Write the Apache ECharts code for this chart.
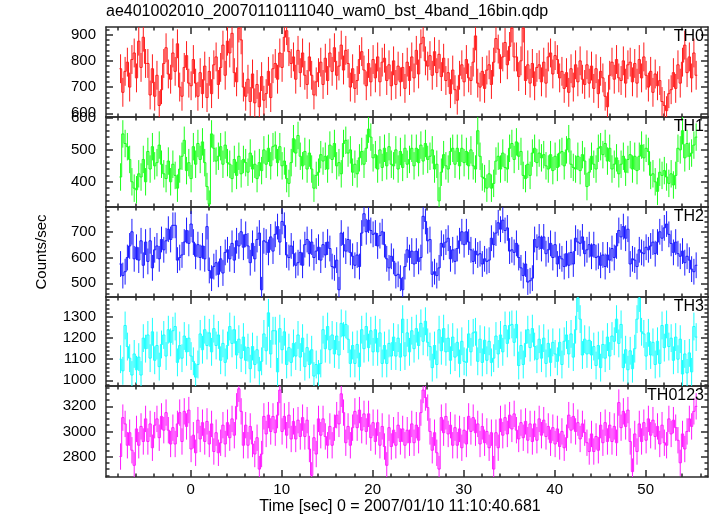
<!DOCTYPE html>
<html><head><meta charset="utf-8">
<script src="https://cdn.jsdelivr.net/npm/echarts@6/dist/echarts.min.js"></script>
<style>html,body{margin:0;padding:0;background:#fff}#c{width:717px;height:516px}</style>
</head><body><div id="c"></div>
<script>
// ---- data (counts/sec, 0.25 s bins) ----
const T0 = -7.70, BIN = 0.25;
const th0 = [
770,680,760,795, 700,805,830,735, 875,775,890,790, 790,670,770,665,
745,630,690,790, 850,750,730,830, 760,865,700,665, 775,820,715,705,
805,715,665,755, 675,780,660,760, 675,785,815,710, 775,860,745,875,
830,905,755,720, 925,880,700,665, 730,645,750,640, 710,625,740,650,
675,760,660,770, 790,730,830,775, 890,915,835,790, 815,730,840,755,
830,745,710,815, 745,670,720,755, 795,710,810,725, 830,760,850,745,
780,860,765,840, 790,700,770,695, 725,805,835,765, 705,790,720,805,
735,815,720,795, 810,725,785,705, 800,710,780,720, 775,695,795,725,
815,735,840,750, 865,890,800,780, 820,745,835,755, 825,740,810,725,
755,675,765,690, 650,745,785,720, 805,735,725,795, 895,715,700,760,
695,765,785,710, 795,885,845,770, 815,870,785,855, 925,815,815,740,
800,925,725,785, 715,790,705,775, 785,720,795,715, 815,830,750,820,
805,735,760,695, 755,680,770,700, 785,720,800,730, 710,785,715,780,
695,770,675,760, 735,665,625,745, 795,730,805,735, 725,800,715,785,
795,720,790,715, 805,735,815,745, 700,760,680,750, 705,725,645,630,
610,675,690,755, 695,785,715,795, 860,755,815,735, 830,745];
const th1 = [
415,550,520,510, 470,400,380,375, 425,415,470,400, 495,440,510,450,
460,515,455,425, 410,465,400,455, 420,380,440,480, 530,435,460,410,
510,455,520,470, 525,460,385,330, 550,505,465,480, 510,455,515,460,
455,410,470,420, 480,425,470,460, 430,490,440,455, 410,460,435,500,
455,505,450,510, 515,460,510,450, 465,410,395,460, 535,490,545,480,
450,495,440,490, 440,380,420,430, 485,465,480,440, 515,470,520,450,
460,425,520,530, 490,500,430,455, 425,475,495,455, 505,565,540,475,
485,440,500,445, 505,450,510,455, 450,500,440,495, 445,505,455,470,
505,450,505,460, 515,465,520,470, 480,500,440,455, 340,430,485,450,
440,495,505,455, 505,450,505,460, 495,450,500,450, 440,560,480,415,
410,380,425,380, 395,465,480,440, 490,445,440,505, 520,470,525,480,
495,420,410,455, 420,490,505,460, 490,475,485,450, 440,485,435,480,
445,490,495,450, 500,535,455,445, 440,480,435,485, 465,385,430,480,
455,440,505,510, 485,520,465,505, 440,455,475,425, 455,480,430,470,
485,440,480,435, 480,515,475,505, 495,420,425,400, 370,430,420,435,
415,395,425,390, 420,505,500,560, 475,520,480,490, 515,540];
const th2 = [
575,530,545,600, 645,700,595,640, 590,665,570,660, 585,665,560,630,
645,595,670,630, 665,710,670,725, 725,590,600,610, 660,705,655,730,
660,605,650,600, 645,595,720,550, 520,565,580,535, 595,540,620,630,
595,655,590,665, 645,700,640,690, 645,580,655,595, 670,695,475,665,
660,620,680,625, 690,720,660,740, 725,610,600,645, 615,570,580,620,
570,650,670,615, 660,600,625,640, 590,650,610,660, 635,565,560,590,
475,695,650,625, 670,620,605,570, 610,565,695,770, 700,745,705,690,
695,645,685,700, 650,595,560,605, 585,530,535,520, 475,565,630,600,
625,575,625,585, 600,760,740,665, 670,535,545,530, 560,655,640,660,
675,595,630,585, 635,665,700,650, 700,660,630,585, 625,610,615,575,
595,585,590,675, 650,695,735,710, 745,705,715,625, 630,620,655,600,
560,530,575,505, 510,520,670,640, 680,635,680,615, 630,655,600,650,
575,605,595,565, 615,570,620,575, 675,660,655,680, 615,630,650,605,
650,600,605,570, 610,565,610,590, 635,600,645,705, 680,720,675,710,
575,595,590,565, 630,620,615,640, 630,645,660,615, 660,700,675,715,
730,690,655,620, 660,615,605,625, 580,605,590,555, 545,570];
const th3 = [
1100,1045,1260,1160, 1105,1025,1125,1050, 1110,1025,1200,1150, 1215,1105,1230,1095,
1165,1065,1170,1215, 1115,1240,1180,1235, 1255,1085,1165,1105, 1210,1135,1200,1115,
1090,1015,1075,1220, 1145,1240,1165,1225, 1135,1245,1165,1215, 1095,1175,1085,1165,
1255,1175,1240,1120, 1195,1105,1205,1095, 1155,1055,1160,1075, 1145,1045,1090,1220,
1140,1320,1125,1235, 1235,1040,1245,1145, 1230,1075,1155,1085, 1175,1115,1215,1110,
1200,1065,1155,1075, 1145,1020,1075,1030, 1080,1240,1150,1255, 1145,1215,1125,1210,
1120,1270,1210,1265, 1195,1080,1165,1080, 1170,1065,1240,1150, 1255,1155,1235,1135,
1240,1135,1225,1080, 1165,1080,1175,1115, 1205,1115,1200,1110, 1290,1115,1225,1135,
1235,1150,1245,1165, 1270,1185,1280,1180, 1160,1060,1165,1075, 1240,1140,1245,1135,
1200,1095,1205,1110, 1180,1080,1185,1090, 1085,1220,1135,1225, 1230,1090,1195,1085,
1190,1095,1185,1085, 1105,1210,1125,1215, 1135,1260,1175,1260, 1265,1180,1265,1070,
1165,1075,1175,1240, 1155,1245,1160,1100, 1195,1105,1200,1080, 1175,1085,1180,1125,
1090,1180,1075,1185, 1215,1125,1220,1110, 1240,1390,1290,1120, 1195,1125,1190,1120,
1160,1070,1165,1060, 1170,1105,1205,1115, 1210,1185,1290,1175, 1265,1060,1145,1050,
1140,1055,1150,1290, 1390,1230,1220,1115, 1225,1120,1180,1075, 1185,1080,1260,1155,
1265,1160,1200,1095, 1205,1100,1195,1030, 1125,1035,1130,1040, 1255,1205];
const th0123 = [
2800,3110,3060,2890, 2990,2850,2730,3020, 2890,3040,2920,3100, 2920,3060,2870,3050,
3100,2950,3120,3010, 3150,3010,2900,3030, 2900,3060,3150,2920, 3160,3040,3170,2860,
2970,2830,3090,2940, 3070,2920,3080,2900, 3060,2840,2990,2830, 2910,3050,2900,3070,
2950,3100,2970,3200, 3340,3160,2890,3050, 2890,3040,2900,2820, 2950,2700,2820,3120,
2980,3130,3000,3120, 2990,3130,3330,3000, 3120,2970,3130,2940, 3080,2940,3090,2960,
3110,2960,3090,2860, 2650,2950,2820,3100, 2970,3100,2960,2890, 3040,2890,3030,3130,
3060,3300,3150,2910, 3040,2890,3030,3160, 3030,3170,3010,3140, 3000,3140,2950,3070,
2920,3070,2890,3040, 2880,2730,3030,2880, 3010,2890,3050,2920, 3020,2890,3010,2910,
3060,2910,3050,2930, 3150,3330,3270,3190, 3000,2850,2990,2830, 2700,3110,2990,3120,
2980,3050,2890,3030, 2890,3020,2870,3010, 2900,3120,3000,3110, 2990,3060,2900,3040,
2910,3000,2870,2990, 2700,2990,2870,3100, 2970,3110,2980,3130, 3020,3140,3010,2940,
3070,2950,3080,2930, 3060,2920,3060,2930, 3100,2970,3090,2960, 3040,2910,3030,2900,
3020,2880,3000,2870, 2950,3130,3010,3120, 3000,3070,2940,3060, 2990,2910,2840,2980,
2840,2960,2850,3050, 2910,3070,2920,3050, 2920,3040,2910,3230, 3030,3160,3040,3170,
2920,2680,2980,2840, 3060,2920,3070,2930, 3100,2970,3090,2960, 3040,2900,3050,2910,
2890,3100,2980,3090, 3030,2930,2750,2980, 2860,3000,3100,3040, 3160,3200];
const panelNames = ['TH0', 'TH1', 'TH2', 'TH3', 'TH0123'];
const panelData = [th0, th1, th2, th3, th0123];
const errBars = [55, 43, 50, 66, 105];           // typical 1-sigma error per panel
const yTicks = [[600, 700, 800, 900], [400, 500, 600], [500, 600, 700], [1000, 1100, 1200, 1300], [2800, 3000, 3200]];
const yMinorSteps = [20, 20, 20, 20, 50];
const yMins = [586, 321, 447, 973, 2637];
const yMaxs = [929, 603, 796, 1395, 3362];
const xTicks = [0, 10, 20, 30, 40, 50];
const xMinorStep = 2;
const colors = ['#ff1a1a', '#1aff1a', '#1a1aff', '#1affff', '#ff1aff'];
const titleText = 'ae401002010_20070110111040_wam0_bst_4band_16bin.qdp';
const xTitle = 'Time [sec] 0 = 2007/01/10 11:10:40.681';
const yTitle = 'Counts/sec';

// ---- chart ----
const FONT = "'Liberation Sans', Arial, Helvetica, sans-serif";
const XMIN = -9.3, XMAX = 56.85;
const tops = [27, 117, 207, 297, 386], heights = [90, 90, 90, 89, 91];
const AX = {color: '#2a2a2a', width: 1.5};
const fmt = v => String(v);
function multiples(min, max, step) {
  const r = [];
  for (let v = Math.ceil(min / step) * step; v <= max + 1e-9; v += step) r.push(+v.toFixed(6));
  return r;
}
const xMinor = multiples(XMIN, XMAX, xMinorStep);
const grids = [], xAxes = [], yAxes = [], series = [], titles = [];
titles.push({text: titleText, left: 106, top: 4, padding: 0,
  textStyle: {fontSize: 16, fontWeight: 'normal', color: '#000', fontFamily: FONT}});

function makeRender(p) {
  const vals = panelData[p], err = errBars[p], color = colors[p];
  return function (params, api) {
    const i = params.dataIndex;
    const t = api.value(0), v = api.value(1);
    const cs = params.coordSys;
    const cy = y => Math.max(cs.y, Math.min(cs.y + cs.height, y));
    const a = api.coord([t - BIN / 2, v]), b = api.coord([t + BIN / 2, v]);
    const e1 = api.coord([t, v - err]), e2 = api.coord([t, v + err]);
    const st = {stroke: color, lineWidth: 1, fill: null};
    const ch = [
      {type: 'line', shape: {x1: a[0], y1: cy(a[1]), x2: b[0], y2: cy(b[1])}, style: st},
      {type: 'line', shape: {x1: e1[0], y1: cy(e1[1]), x2: e2[0], y2: cy(e2[1])}, style: st}
    ];
    if (i > 0) {
      const c = api.coord([t - BIN / 2, vals[i - 1]]);
      ch.push({type: 'line', shape: {x1: c[0], y1: cy(c[1]), x2: a[0], y2: cy(a[1])}, style: st});
    }
    return {type: 'group', children: ch};
  };
}

for (let p = 0; p < 5; p++) {
  grids.push({left: 106, right: 9, top: tops[p], height: heights[p]});
  const xi = xAxes.length, yi = yAxes.length;
  const hidLine = {show: false, onZero: false};
  const baseX = {type: 'value', gridIndex: p, min: XMIN, max: XMAX, splitLine: {show: false},
    axisLine: {show: true, onZero: false, lineStyle: AX}, axisLabel: {show: false}};
  const majT = {show: true, inside: true, length: 7, customValues: xTicks, lineStyle: AX};
  const minT = {show: true, inside: true, length: 3.5, customValues: xMinor, lineStyle: AX};
  const last = p === 4;
  xAxes.push(Object.assign({}, baseX, {position: 'bottom', axisTick: majT,
    axisLabel: last ? {show: true, customValues: xTicks, formatter: fmt, margin: 5, fontSize: 15, color: '#000', fontFamily: FONT} : {show: false},
    name: last ? xTitle : '', nameLocation: 'middle', nameGap: 22,
    nameTextStyle: {fontSize: 16, color: '#000', fontFamily: FONT, padding: [0, 14, 0, 0]}}));
  xAxes.push(Object.assign({}, baseX, {position: 'top', axisTick: majT}));
  xAxes.push(Object.assign({}, baseX, {position: 'bottom', axisLine: hidLine, axisTick: minT}));
  xAxes.push(Object.assign({}, baseX, {position: 'top', axisLine: hidLine, axisTick: minT}));

  const ymin = yMins[p], ymax = yMaxs[p];
  const yMinor = multiples(ymin, ymax, yMinorSteps[p]);
  const baseY = {type: 'value', gridIndex: p, min: ymin, max: ymax, splitLine: {show: false},
    axisLine: {show: true, onZero: false, lineStyle: AX}, axisLabel: {show: false}};
  const yMajT = {show: true, inside: true, length: 7, customValues: yTicks[p], lineStyle: AX};
  const yMinT = {show: true, inside: true, length: 3.5, customValues: yMinor, lineStyle: AX};
  yAxes.push(Object.assign({}, baseY, {position: 'left', axisTick: yMajT,
    axisLabel: {show: true, customValues: yTicks[p], formatter: fmt, margin: 10, fontSize: 15, color: '#000', fontFamily: FONT},
    name: p === 2 ? yTitle : '', nameLocation: 'middle', nameGap: 57,
    nameTextStyle: {fontSize: 15, color: '#000', fontFamily: FONT}}));
  yAxes.push(Object.assign({}, baseY, {position: 'right', axisTick: yMajT}));
  yAxes.push(Object.assign({}, baseY, {position: 'left', axisLine: hidLine, axisTick: yMinT}));
  yAxes.push(Object.assign({}, baseY, {position: 'right', axisLine: hidLine, axisTick: yMinT}));

  series.push({type: 'custom', xAxisIndex: xi, yAxisIndex: yi, renderItem: makeRender(p),
    encode: {x: 0, y: 1}, silent: true,
    data: panelData[p].map((v, i) => [T0 + i * BIN, v])});
  titles.push({text: panelNames[p], right: 13, top: tops[p] + 2, padding: 0,
    textStyle: {fontSize: 16, fontWeight: 'normal', color: '#000', fontFamily: FONT}});
}

const chart = echarts.init(document.getElementById('c'), null, {renderer: 'canvas'});
chart.setOption({animation: false, backgroundColor: '#fff', title: titles,
  grid: grids, xAxis: xAxes, yAxis: yAxes, series: series});
</script></body></html>
